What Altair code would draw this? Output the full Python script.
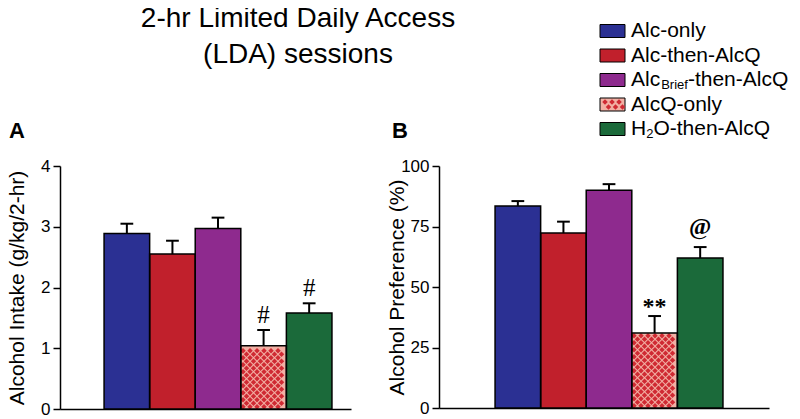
import altair as alt
import pandas as pd

# ---------------- data ----------------
groups = ["Alc-only", "Alc-then-AlcQ", "AlcBrief-then-AlcQ", "AlcQ-only", "H2O-then-AlcQ"]
bar_colors = ["#2b3093", "#c1202c", "#8e2a8e", "#cf2a33", "#1b6a3a"]

intake_mean = [2.89, 2.55, 2.97, 1.04, 1.58]
intake_err = [0.16, 0.22, 0.18, 0.26, 0.16]
intake_sig = ["", "", "", "#", "#"]
intake_ticks = [0, 1, 2, 3, 4]

pref_mean = [83.5, 72.3, 90.0, 31.0, 62.0]
pref_err = [2.0, 4.7, 2.5, 7.0, 4.5]
pref_sig = ["", "", "", "**", "@"]
pref_ticks = [0, 25, 50, 75, 100]

title_lines = ["2-hr Limited Daily Access", "(LDA) sessions"]

# ---------------- style ----------------
FONT = "Liberation Sans"
SERIF = "Liberation Serif"
PATTERN_BG = "#f2b0a4"
PATTERN_FG = "#cf2a33"
one = pd.DataFrame({"k": [0]})


def pattern_df(lo, top, px_x, px_y, bar_px=45.6, d=7.0, margin=2.2):
    rows = []
    r = 0
    while True:
        ypx = d / 2 * r + margin
        if ypx > top * px_y - margin:
            break
        xpx = margin + (r % 2) * d / 2
        while xpx <= bar_px - margin:
            rows.append({"x": lo + xpx / px_x, "y": ypx / px_y})
            xpx += d
        r += 1
    return pd.DataFrame(rows)


def panel(mean, err, sig, sig_style, ticks, ytitle, xdom, w, h, title_x, extra):
    n = len(mean)
    df = pd.DataFrame({"group": groups, "pos": list(range(n))})
    df["lo"] = df.pos - 0.5
    df["hi"] = df.pos + 0.5
    df["cl"] = df.pos - 0.14
    df["cr"] = df.pos + 0.14
    df["mean"] = mean
    df["top"] = [m + e for m, e in zip(mean, err)]
    df["zero"] = 0.0
    df["fill"] = [PATTERN_BG if g == "AlcQ-only" else c for g, c in zip(groups, bar_colors)]
    df["sig"] = sig

    xs = alt.Scale(domain=xdom, nice=False, zero=False)
    ys = alt.Scale(domain=[ticks[0], ticks[-1]], nice=False, zero=True)
    xax = alt.Axis(labels=False, ticks=False, title=None, grid=False,
                   domainColor="black", domainWidth=1.5)
    yax = alt.Axis(values=ticks, title=ytitle, grid=False, domainColor="black",
                   domainWidth=1.5, tickColor="black", tickWidth=1.5, tickSize=7,
                   labelPadding=3, labelFontSize=17, labelColor="black", labelFont=FONT,
                   titleFont=FONT, titleFontSize=21, titleFontWeight="normal",
                   titleColor="black", titleX=title_x, titleY=h / 2, titleAngle=270,
                   titleBaseline="middle", titleAlign="center")

    def X(f):
        return alt.X(f"{f}:Q", scale=xs, axis=xax)

    def Y(f):
        return alt.Y(f"{f}:Q", scale=ys, axis=yax)

    base = alt.Chart(df)
    bars = base.mark_rect(strokeWidth=0).encode(
        x=X("lo"), x2="hi", y=Y("zero"), y2="mean", fill=alt.Fill("fill:N", scale=None))

    px_x = w / (xdom[1] - xdom[0])
    px_y = h / (ticks[-1] - ticks[0])
    k = groups.index("AlcQ-only")
    pdf = pattern_df(k - 0.5, mean[k], px_x, px_y)
    pat = alt.Chart(pdf).mark_point(shape="diamond", filled=True, size=30,
                                    color=PATTERN_FG, opacity=1, strokeWidth=0).encode(
        x=X("x"), y=Y("y"))

    err_v = base.mark_rule(color="black", strokeWidth=2).encode(x=X("pos"), y=Y("mean"), y2="top")
    err_c = base.mark_rule(color="black", strokeWidth=2).encode(x=X("cl"), x2="cr", y=Y("top"))
    outline = base.mark_rect(fillOpacity=0, stroke="black", strokeWidth=1.5).encode(
        x=X("lo"), x2="hi", y=Y("zero"), y2="mean")

    layers = [bars, pat, outline, err_v, err_c]
    for i, s in enumerate(sig):
        if s:
            size, dy, weight = sig_style[s]
            layers.append(base.transform_filter(alt.datum.pos == i).mark_text(
                font=SERIF, fontSize=size, dy=dy, baseline="alphabetic",
                fontWeight=weight, color="black").encode(x=X("pos"), y=Y("top"), text="sig:N"))
    layers += extra
    return alt.layer(*layers).properties(width=w, height=h)


def txt(text, x, y, size, weight="normal", align="left", baseline="alphabetic", font=FONT):
    return alt.Chart(one).mark_text(text=text, font=font, fontSize=size, fontWeight=weight,
                                    align=align, baseline=baseline, color="black").encode(
        x=alt.value(x), y=alt.value(y))


# panel A extras: title and label
extraA = [
    txt(title_lines[0], 238, -139, 28, align="center"),
    txt(title_lines[1], 238, -103, 28, align="center"),
    txt("A", -51, -28, 22, weight="bold"),
]

# panel B extras: label and legend
LF = 21
SUB = 13
extraB = [txt("B", -47, -28, 22, weight="bold")]
leg_y0 = -135
leg_step = 24.5
sw_x0, sw_x1, tx = 161, 186, 192
w_alc = 1.389 * LF
w_brief = 2.056 * SUB
w_H = 0.722 * LF
w_2 = 0.556 * SUB
for i, g in enumerate(groups):
    yc = leg_y0 + i * leg_step
    fill = PATTERN_BG if g == "AlcQ-only" else bar_colors[i]
    extraB.append(alt.Chart(one).mark_rect(fill=fill, stroke="black", strokeWidth=1).encode(
        x=alt.value(sw_x0), x2=alt.value(sw_x1), y=alt.value(yc - 6.5), y2=alt.value(yc + 6.5)))
    if g == "AlcQ-only":
        for j in range(3):
            for rr in range(2):
                extraB.append(alt.Chart(one).mark_point(shape="diamond", filled=True, size=30,
                                                        color=PATTERN_FG, opacity=1,
                                                        strokeWidth=0).encode(
                    x=alt.value(sw_x0 + 5 + 7 * j + 3.5 * rr),
                    y=alt.value(yc - 2.5 + 5 * rr)))
    if g == "AlcBrief-then-AlcQ":
        extraB.append(txt("Alc", tx, yc, LF, baseline="middle"))
        extraB.append(txt("Brief", tx + w_alc + 1, yc + 5, SUB, baseline="middle"))
        extraB.append(txt("-then-AlcQ", tx + w_alc + w_brief + 1, yc, LF, baseline="middle"))
    elif g == "H2O-then-AlcQ":
        extraB.append(txt("H", tx, yc, LF, baseline="middle"))
        extraB.append(txt("2", tx + w_H, yc + 5, SUB, baseline="middle"))
        extraB.append(txt("O-then-AlcQ", tx + w_H + w_2, yc, LF, baseline="middle"))
    else:
        extraB.append(txt(g, tx, yc, LF, baseline="middle"))

sigA = {"#": (25, -7, "normal")}
sigB = {"**": (24, -2, "bold"), "@": (24, -13, "bold")}

A = panel(intake_mean, intake_err, intake_sig, sigA, intake_ticks,
          "Alcohol Intake (g/kg/2-hr)", [-1.467, 4.918], 291, 243, -43, extraA)
B = panel(pref_mean, pref_err, pref_sig, sigB, pref_ticks,
          "Alcohol Preference (%)", [-1.73, 5.51], 330, 242, -42, extraB)

chart = alt.hconcat(A, B, spacing=88, bounds="flush").resolve_scale(
    x="independent", y="independent").configure_view(stroke=None).properties(
    padding={"left": -3, "top": -3, "right": 0, "bottom": 0})

chart.save("out.html", embed_options={"renderer": "svg", "actions": False})
